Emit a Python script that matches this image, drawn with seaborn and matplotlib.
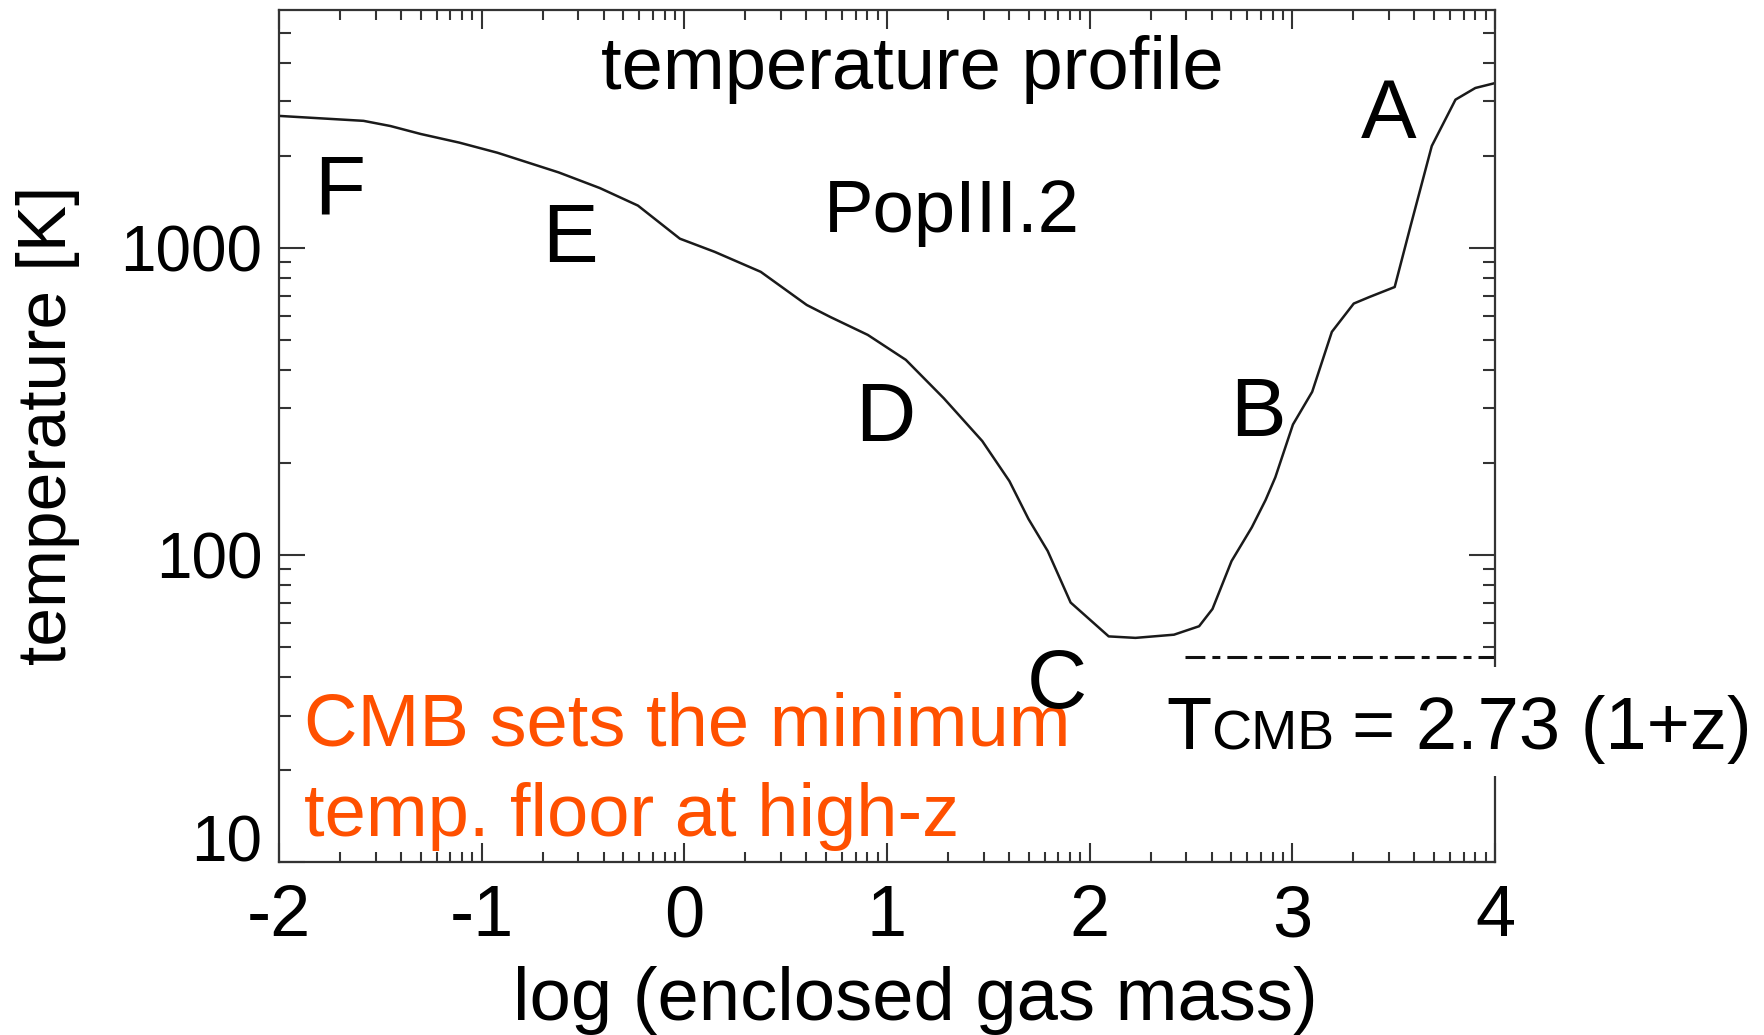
import numpy as np
import pandas as pd
import matplotlib
matplotlib.use("Agg")
import matplotlib.pyplot as plt
import matplotlib.ticker as mticker
from matplotlib.patches import Rectangle
import seaborn as sns

# Temperature profile of a PopIII.2 collapsing cloud
log_mass = [-2.0, -1.583, -1.45, -1.30, -1.11, -0.922, -0.62, -0.417, -0.229, -0.022,
            0.15, 0.377, 0.604, 0.72, 0.905, 1.093, 1.28, 1.47, 1.604, 1.698,
            1.793, 1.906, 2.094, 2.226, 2.416, 2.54, 2.606, 2.70, 2.80, 2.868,
            2.916, 3.003, 3.098, 3.195, 3.303, 3.38, 3.505, 3.584, 3.688, 3.805,
            3.903, 4.0]
temperature = [2692, 2594, 2495, 2350, 2203, 2042, 1762, 1567, 1374, 1072,
               971, 836, 652, 596, 521, 432, 324, 235, 174, 131,
               103, 70, 54.3, 53.7, 55, 58.6, 66.7, 95.5, 123, 151,
               179, 266, 340, 533, 659, 692, 746, 1183, 2148, 3041,
               3319, 3443]

# CMB temperature floor, 2.73 (1+z) at z = 16
cmb_log_mass = [2.47, 4.0]
cmb_temperature = [46.4, 46.4]

xtick_exponents = [-2, -1, 0, 1, 2, 3, 4]
xtick_labels = ["-2", "-1", "0", "1", "2", "3", "4"]
ytick_values = [10, 100, 1000]
ytick_labels = ["10", "100", "1000"]

sns.set_theme(style="ticks")
plt.rcParams["font.family"] = ["Liberation Sans", "DejaVu Sans"]

W, H = 1765, 1035
fig = plt.figure(figsize=(W / 100, H / 100), dpi=100)
ax = fig.add_axes([279 / W, 173 / H, 1216 / W, 852 / H])
ax.set_xscale("log")
ax.set_yscale("log")

df = pd.DataFrame({"mass": 10.0 ** np.array(log_mass), "temperature": temperature})
sns.lineplot(data=df, x="mass", y="temperature", sort=False, estimator=None,
             color="#1a1a1a", linewidth=1.8, ax=ax)

cmb = pd.DataFrame({"mass": 10.0 ** np.array(cmb_log_mass), "temperature": cmb_temperature})
ax.plot(cmb["mass"], cmb["temperature"], color="#111111", linewidth=2.2,
        dashes=(6.5, 2.3, 2.6, 2.3), solid_capstyle="butt", dash_capstyle="butt")

ax.set_xlim(1e-2, 1e4)
ax.set_ylim(10, 10 ** 3.775)

ax.set_xticks([10.0 ** e for e in xtick_exponents])
ax.set_xticklabels(xtick_labels)
ax.set_yticks(ytick_values)
ax.set_yticklabels(ytick_labels)
ax.xaxis.set_minor_locator(mticker.LogLocator(base=10, subs=np.arange(2, 10), numticks=20))
ax.yaxis.set_minor_locator(mticker.LogLocator(base=10, subs=np.arange(2, 10), numticks=20))
ax.xaxis.set_minor_formatter(mticker.NullFormatter())
ax.yaxis.set_minor_formatter(mticker.NullFormatter())

spine_col = "#333333"
for s in ax.spines.values():
    s.set_color(spine_col)
    s.set_linewidth(1.6)
ax.tick_params(which="both", direction="in", top=True, right=True,
               color=spine_col, width=1.5)
ax.xaxis.set_tick_params(which="major", length=13.7, pad=16, labelsize=52, labelcolor="black")
ax.xaxis.set_tick_params(which="minor", length=7.2)
ax.yaxis.set_tick_params(which="major", length=18.7, pad=12, labelsize=46, labelcolor="black")
ax.yaxis.set_tick_params(which="minor", length=8.6)
ax.get_yticklabels()[0].set_verticalalignment("baseline")

ax.set_xlabel("log (enclosed gas mass)", fontsize=53.5, color="black")
ax.xaxis.label.set_verticalalignment("baseline")
ax.xaxis.set_label_coords(0.523, -0.1854)
ax.set_ylabel("temperature [K]", fontsize=50, color="black")
ax.yaxis.set_label_coords(-0.1637, 0.513)

ax.text(0.5206, 0.9067, "temperature profile", transform=ax.transAxes,
        ha="center", va="baseline", fontsize=53.5, color="black")
ax.text(0.5535, 0.7394, "PopIII.2", transform=ax.transAxes,
        ha="center", va="baseline", fontsize=53.5, color="black")

# Evolutionary phases along the track
phase_letters = ["A", "B", "C", "D", "E", "F"]
phase_pos = [(0.9128, 0.8498), (0.8051, 0.5000), (0.6398, 0.1808),
             (0.4984, 0.4941), (0.2393, 0.7042), (0.0502, 0.7606)]
for letter, (px, py) in zip(phase_letters, phase_pos):
    ax.text(px, py, letter, transform=ax.transAxes, ha="center", va="baseline",
            fontsize=60, color="black", zorder=5)

orange = "#FF5000"
ax.text(0.0206, 0.1366, "CMB sets the minimum", transform=ax.transAxes,
        ha="left", va="baseline", fontsize=53.4, color=orange, zorder=4)
ax.text(0.0206, 0.0305, "temp. floor at high-z", transform=ax.transAxes,
        ha="left", va="baseline", fontsize=53.4, color=orange, zorder=4)

# White panel behind the CMB formula, laid over the right frame
fig.add_artist(Rectangle((1155 / W, (H - 776) / H), (W - 1155) / W, 109 / H,
                         transform=fig.transFigure, facecolor="white",
                         edgecolor="none", zorder=1))
base_y = (H - 749) / H
fig.text(1166 / W, base_y, "T", ha="left", va="baseline", fontsize=53.4,
         color="black", zorder=2)
fig.text(1211 / W, base_y, "CMB", ha="left", va="baseline", fontsize=40,
         color="black", zorder=2)
fig.text(1352 / W, base_y, "= 2.73 (1+z)", ha="left", va="baseline", fontsize=53.4,
         color="black", zorder=2)

fig.savefig("out.png", dpi=100, facecolor="white")
